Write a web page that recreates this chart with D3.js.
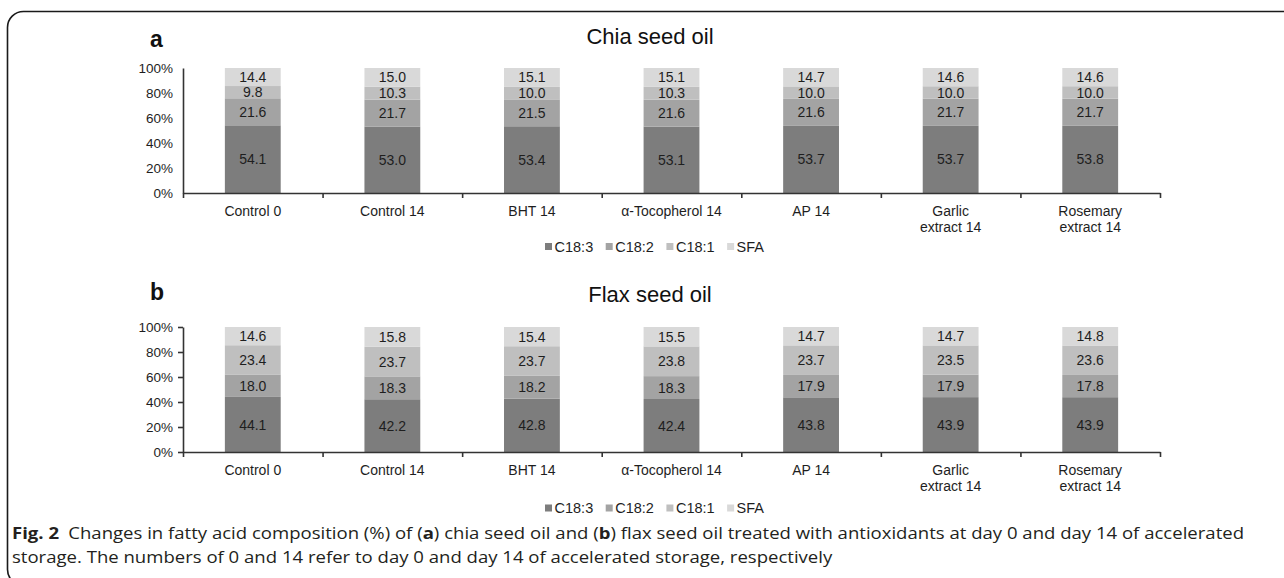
<!DOCTYPE html>
<html>
<head>
<meta charset="utf-8">
<script src="https://cdn.jsdelivr.net/npm/d3@7/dist/d3.min.js"></script>
<style>
  html, body { margin: 0; padding: 0; background: #fff; }
  svg { display: block; }
</style>
</head>
<body>
<svg id="chart" width="1284" height="578"></svg>
<script>
// ---------- data ----------
const categories = ["Control 0", "Control 14", "BHT 14", "α-Tocopherol 14", "AP 14", "Garlic extract 14", "Rosemary extract 14"];
const categoryLines = [["Control 0"], ["Control 14"], ["BHT 14"], ["α-Tocopherol 14"], ["AP 14"], ["Garlic", "extract 14"], ["Rosemary", "extract 14"]];
const seriesNames = ["C18:3", "C18:2", "C18:1", "SFA"];
const yTicks = [0, 0.2, 0.4, 0.6, 0.8, 1.0];

const chiaC183 = [54.1, 53.0, 53.4, 53.1, 53.7, 53.7, 53.8];
const chiaC182 = [21.6, 21.7, 21.5, 21.6, 21.6, 21.7, 21.7];
const chiaC181 = [9.8, 10.3, 10.0, 10.3, 10.0, 10.0, 10.0];
const chiaSFA  = [14.4, 15.0, 15.1, 15.1, 14.7, 14.6, 14.6];

const flaxC183 = [44.1, 42.2, 42.8, 42.4, 43.8, 43.9, 43.9];
const flaxC182 = [18.0, 18.3, 18.2, 18.3, 17.9, 17.9, 17.8];
const flaxC181 = [23.4, 23.7, 23.7, 23.8, 23.7, 23.5, 23.6];
const flaxSFA  = [14.6, 15.8, 15.4, 15.5, 14.7, 14.7, 14.8];

const colors = ["#7d7d7d", "#a3a3a3", "#bfbfbf", "#d9d9d9"];

// ---------- drawing ----------
const svg = d3.select("#chart");
const FONT = "'Liberation Sans', Arial, sans-serif";
const TEXT = "#1e1e1e";

// frame
svg.append("rect")
  .attr("x", 7.5).attr("y", 11.5)
  .attr("width", 1400).attr("height", 574)
  .attr("rx", 16).attr("ry", 16)
  .attr("fill", "none").attr("stroke", "#1a1a1a").attr("stroke-width", 1.6);

const x = d3.scaleBand().domain(categories).range([183, 1160]).paddingInner(0.6).paddingOuter(0.3);
const boundary = d3.scaleLinear().domain([0, categories.length]).range(x.range());
const color = d3.scaleOrdinal().domain(seriesNames).range(colors);

function makeRows(a, b, c, d) {
  return categories.map((cat, i) => ({ cat, "C18:3": a[i], "C18:2": b[i], "C18:1": c[i], "SFA": d[i] }));
}

function drawPanel(opt) {
  const g = svg.append("g");
  const y = d3.scaleLinear().domain([0, 1]).range([opt.y0, opt.y1]);
  const stack = d3.stack().keys(seriesNames).offset(d3.stackOffsetExpand);
  const layers = stack(opt.rows);

  // bars
  const lg = g.selectAll("g.layer").data(layers).join("g").attr("fill", d => color(d.key));
  lg.selectAll("rect").data(d => d.map(p => ({ p, key: d.key })))
    .join("rect")
    .attr("x", d => x(d.p.data.cat))
    .attr("width", x.bandwidth())
    .attr("y", d => y(d.p[1]))
    .attr("height", d => y(d.p[0]) - y(d.p[1]));

  // value labels
  layers.forEach(layer => {
    g.selectAll(null).data(layer).join("text")
      .attr("x", d => x(d.data.cat) + x.bandwidth() / 2)
      .attr("y", d => (y(d[0]) + y(d[1])) / 2)
      .attr("dy", "0.36em")
      .attr("text-anchor", "middle")
      .attr("font-family", FONT).attr("font-size", 14).attr("fill", TEXT)
      .text(d => d.data[layer.key].toFixed(1));
  });

  // y axis
  const ya = g.append("g").attr("transform", `translate(183,0)`)
    .call(d3.axisLeft(y).tickValues(yTicks).tickFormat(d3.format(".0%"))
      .tickSizeInner(opt.yTick).tickSizeOuter(0).tickPadding(10 - opt.yTick));
  ya.selectAll("text").attr("font-family", FONT).attr("font-size", 13.5).attr("fill", TEXT);
  ya.selectAll("path, line").attr("stroke", "#333").attr("stroke-width", 1.6);

  // x axis (line + boundary ticks)
  const xa = g.append("g").attr("transform", `translate(0,${opt.y0})`)
    .call(d3.axisBottom(boundary).tickValues(d3.range(categories.length + 1)).tickFormat("")
      .tickSizeInner(5).tickSizeOuter(0));
  xa.selectAll("path, line").attr("stroke", "#333").attr("stroke-width", 1.6);

  // category labels
  const lab = g.selectAll("text.cat").data(categories).join("text").attr("class", "cat")
    .attr("text-anchor", "middle")
    .attr("font-family", FONT).attr("font-size", 14).attr("fill", TEXT)
    .attr("transform", d => `translate(${x(d) + x.bandwidth() / 2},${opt.y0 + 23})`);
  lab.selectAll("tspan").data((d, i) => categoryLines[i]).join("tspan")
    .attr("x", 0).attr("dy", (d, i) => i === 0 ? 0 : 15.5).text(d => d);

  // panel letter & title
  g.append("text").attr("x", 150).attr("y", opt.letterY)
    .attr("font-family", FONT).attr("font-weight", "bold").attr("font-size", 23).attr("fill", "#111")
    .text(opt.letter);
  g.append("text").attr("x", 650).attr("y", opt.titleY).attr("text-anchor", "middle")
    .attr("font-family", FONT).attr("font-size", 22).attr("fill", "#111")
    .text(opt.title);

  // legend
  const leg = g.append("g");
  let lx = 545;
  seriesNames.forEach(name => {
    leg.append("rect").attr("x", lx).attr("y", opt.legendY - 3.5).attr("width", 7).attr("height", 7).attr("fill", color(name));
    const t = leg.append("text").attr("x", lx + 9.5).attr("y", opt.legendY).attr("dy", "0.36em")
      .attr("font-family", FONT).attr("font-size", 14.5).attr("fill", TEXT).text(name);
    lx += 9.5 + t.node().getComputedTextLength() + 12.5;
  });
}

drawPanel({
  rows: makeRows(chiaC183, chiaC182, chiaC181, chiaSFA),
  y0: 193, y1: 68, yTick: 0,
  letter: "a", letterY: 47, title: "Chia seed oil", titleY: 44, legendY: 246.5
});
drawPanel({
  rows: makeRows(flaxC183, flaxC182, flaxC181, flaxSFA),
  y0: 452, y1: 327, yTick: 5,
  letter: "b", letterY: 300, title: "Flax seed oil", titleY: 302, legendY: 508
});

// caption
const CAP = "'Open Sans', 'Noto Sans', sans-serif";
const cap = svg.append("g").attr("font-family", CAP).attr("font-size", 16.5).attr("fill", "#231f20");
const l1 = cap.append("text").attr("x", 0).attr("y", 539);
[["Fig. 2", true], ["\u2002Changes in fatty acid composition (%) of (", false], ["a", true],
 [") chia seed oil and (", false], ["b", true],
 [") flax seed oil treated with antioxidants at day 0 and day 14 of accelerated", false]]
  .forEach(([s, b]) => l1.append("tspan").attr("font-weight", b ? 700 : 400).text(s));
const l2 = cap.append("text").attr("x", 0).attr("y", 563)
  .text("storage. The numbers of 0 and 14 refer to day 0 and day 14 of accelerated storage, respectively");
const w1 = l1.node().getComputedTextLength();
const sx = 1233 / w1;
cap.attr("transform", `translate(12,0) scale(${sx},1)`);
</script>
</body>
</html>
